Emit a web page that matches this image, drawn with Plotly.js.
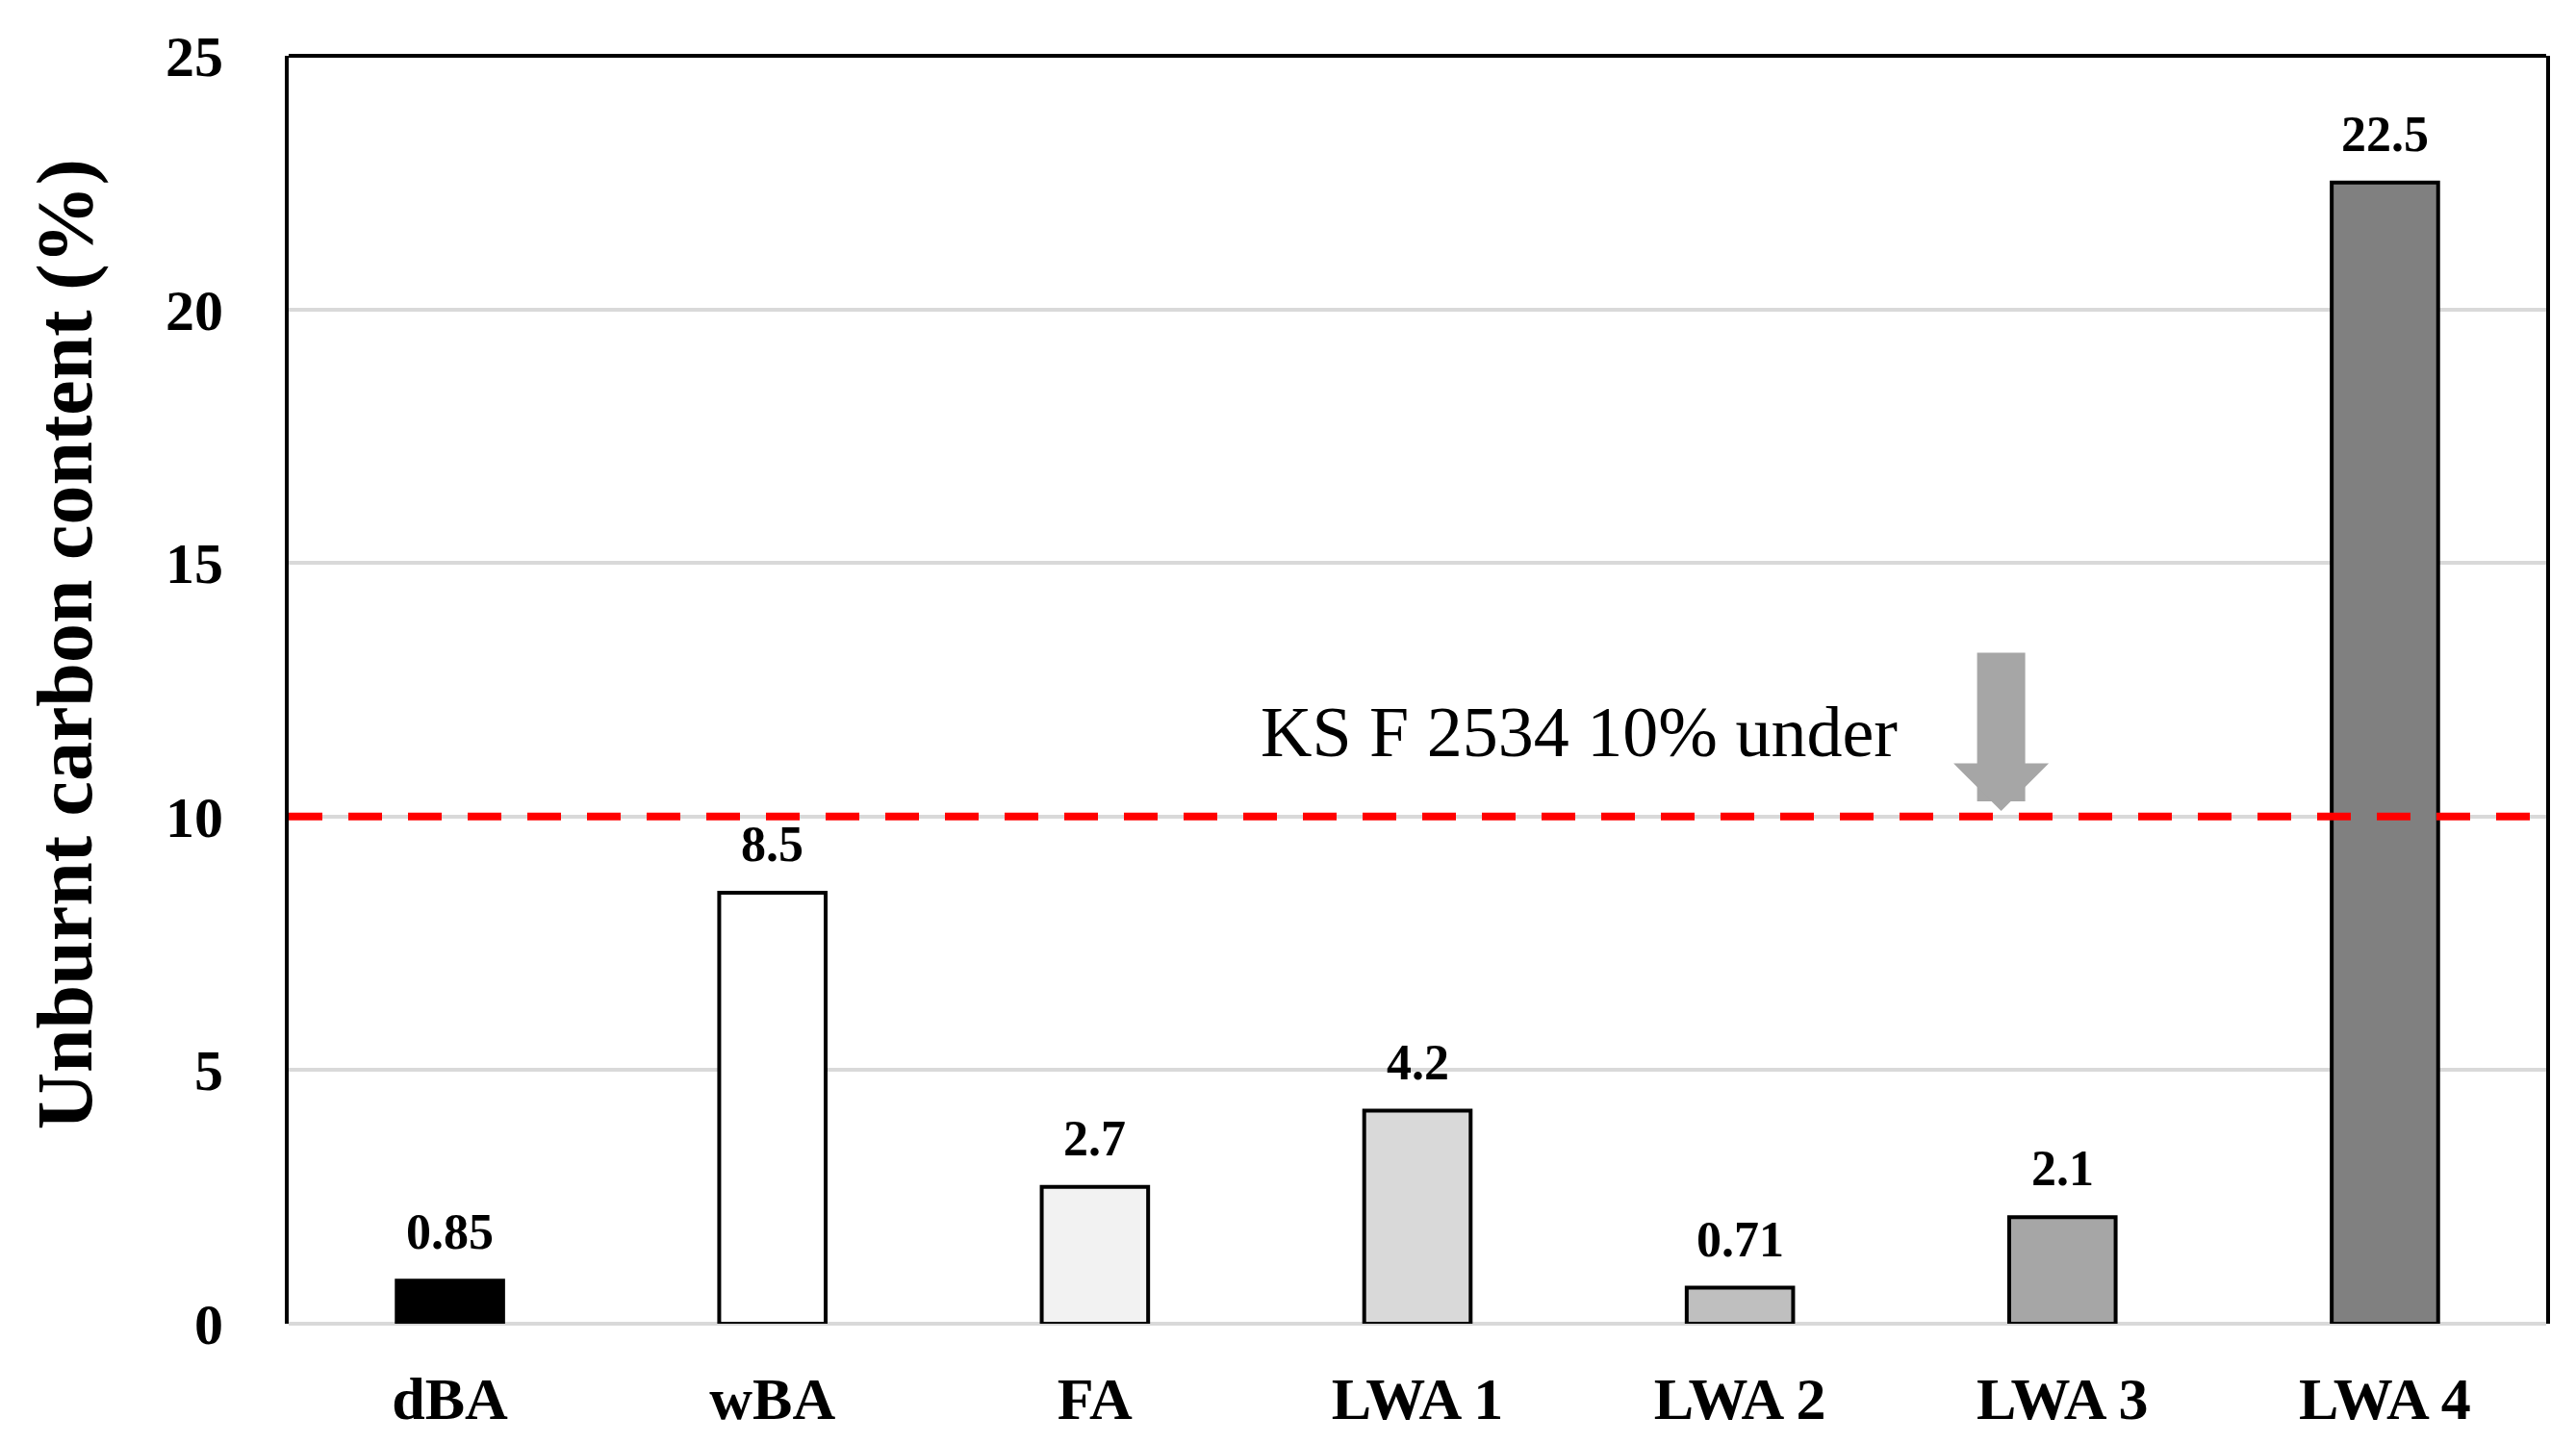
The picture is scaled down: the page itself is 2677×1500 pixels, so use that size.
<!DOCTYPE html>
<html>
<head>
<meta charset="utf-8">
<script src="https://cdn.plot.ly/plotly-3.0.1.min.js"></script>
<style>html,body{margin:0;padding:0;background:#fff;}#chart{width:2677px;height:1500px;}</style>
</head>
<body>
<div id="chart"></div>
<script>
const categories = ['dBA', 'wBA', 'FA', 'LWA 1', 'LWA 2', 'LWA 3', 'LWA 4'];
const carbonContent = [0.85, 8.5, 2.7, 4.2, 0.71, 2.1, 22.5];
const valueLabels = ['0.85', '8.5', '2.7', '4.2', '0.71', '2.1', '22.5'];
const barColors = ['#000000', '#ffffff', '#f2f2f2', '#d9d9d9', '#bfbfbf', '#a6a6a6', '#808080'];
const yTickValues = [0, 5, 10, 15, 20, 25];
const standardLimit = 10;
const standardText = 'KS F 2534 10% under';
const standardTextPos = {x: 3.5, y: 11.67};
const arrowPos = {x: 4.81, yTail: 13.26, yTip: 10.11};

const serif = '"Liberation Serif", "Times New Roman", Times, serif';

const trace = {
  type: 'bar',
  x: categories,
  y: carbonContent,
  width: 0.33,
  marker: {color: barColors, line: {color: '#000000', width: 4}},
  hoverinfo: 'x+y'
};

const valueAnnotations = categories.map((c, i) => ({
  x: c, y: carbonContent[i], xref: 'x', yref: 'y',
  text: valueLabels[i], showarrow: false,
  yanchor: 'bottom', yshift: 20,
  font: {family: serif, size: 52, color: '#000000', weight: 'bold'}
}));

const layout = {
  width: 2677, height: 1500,
  margin: {l: 300, r: 31, t: 58, b: 124},
  paper_bgcolor: '#ffffff', plot_bgcolor: '#ffffff',
  showlegend: false,
  xaxis: {
    type: 'category',
    range: [-0.5, 6.5],
    showline: false, showgrid: false, zeroline: false,
    ticks: '',
    ticklabelstandoff: 36,
    tickfont: {family: serif, size: 62, color: '#000000', weight: 'bold'}
  },
  yaxis: {
    range: [0, 25],
    tickvals: yTickValues,
    showline: true, mirror: true, linecolor: '#000000', linewidth: 4,
    showgrid: true, gridcolor: '#d9d9d9', gridwidth: 4,
    zeroline: true, zerolinecolor: '#d9d9d9', zerolinewidth: 4,
    ticks: '',
    ticklabelstandoff: 52,
    tickfont: {family: serif, size: 60, color: '#000000', weight: 'bold'}
  },
  shapes: [
    {type: 'line', xref: 'paper', yref: 'paper', x0: 0, x1: 1, y0: 1, y1: 1,
     line: {color: '#000000', width: 4}, layer: 'above'},
    {type: 'line', xref: 'paper', yref: 'y', x0: 0, x1: 1, y0: standardLimit, y1: standardLimit,
     line: {color: '#ff0000', width: 8, dash: '35px,27px'}, layer: 'above'}
  ],
  annotations: valueAnnotations.concat([
    {x: -0.099, y: 0.536, xref: 'paper', yref: 'paper', textangle: -90,
     text: 'Unburnt carbon content (%)', showarrow: false,
     xanchor: 'center', yanchor: 'middle',
     font: {family: serif, size: 82, color: '#000000', weight: 'bold'}},
    {x: standardTextPos.x, y: standardTextPos.y, xref: 'x', yref: 'y',
     text: standardText, showarrow: false, xanchor: 'center', yanchor: 'middle',
     font: {family: serif, size: 74, color: '#000000'}},
    {x: arrowPos.x, y: arrowPos.yTip, xref: 'x', yref: 'y',
     ax: arrowPos.x, ay: arrowPos.yTail, axref: 'x', ayref: 'y',
     text: '', showarrow: true, arrowhead: 1, arrowwidth: 50, arrowsize: 0.33,
     arrowcolor: '#a6a6a6', standoff: 0}
  ])
};

Plotly.newPlot('chart', [trace], layout, {displayModeBar: false, staticPlot: true});
</script>
</body>
</html>
